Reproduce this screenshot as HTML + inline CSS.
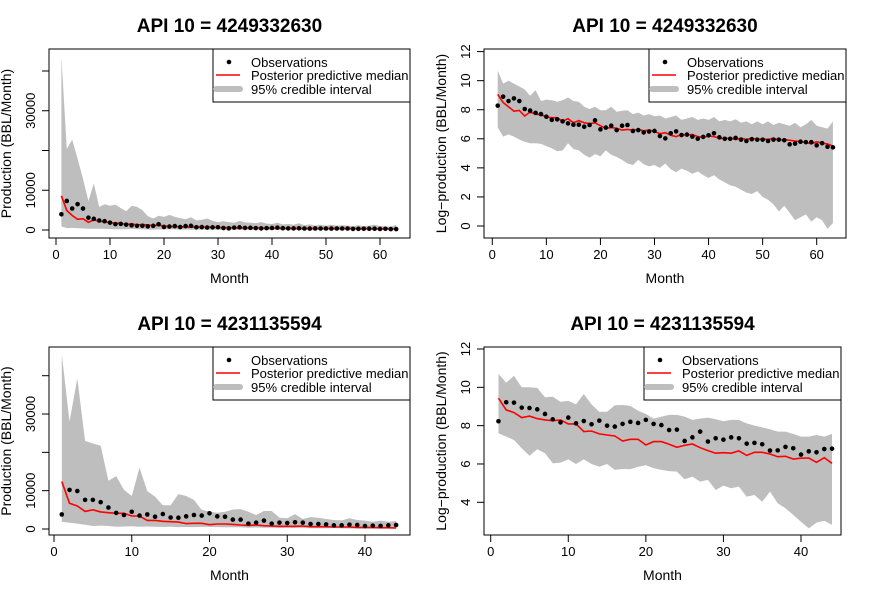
<!DOCTYPE html>
<html><head><meta charset="utf-8"><style>
body{margin:0;background:#fff}
svg{display:block;font-family:"Liberation Sans",sans-serif}
</style></head><body>
<svg id="chart" width="872" height="597" viewBox="0 0 872 597" xmlns="http://www.w3.org/2000/svg"></svg>
<script>
// Panel 1: well 4249332630, production
const p1Obs=[3950,7300,5400,6500,5400,3100,2810,2390,2210,1845,1480,1540,1340,1165,1065,1065,925,1045,1435,770,870,990,735,990,1045,690,735,625,665,690,490,415,590,670,525,540,470,403,460,510,590,445,403,403,430,380,350,390,380,380,350,380,380,370,275,290,330,320,320,257,300,230,224];
const p1Med=[8600,4900,3650,2700,2840,1940,2540,2210,2100,1810,1720,1720,1340,1600,1210,1410,1210,1150,1210,990,830,870,830,735,770,735,770,700,735,665,570,610,520,470,545,520,545,470,445,490,470,425,403,425,385,425,385,425,385,403,385,425,365,385,365,350,330,315,285,330,300,285,245];
const p1Up=[43600,20400,22750,17900,12900,7300,11700,5800,6500,6100,6400,5500,4700,6100,5800,5000,3500,2900,3600,3300,3800,3300,3000,2700,3200,2400,2600,2900,2300,2000,2200,2000,1800,2300,1900,1800,1700,2000,1600,1500,1800,1400,1500,1300,1700,1200,1400,1100,1300,1100,1300,1100,1200,1100,1000,1200,900,1100,1300,1000,900,800,1300];
const p1Lo=[900,470,540,470,380,330,300,300,285,245,210,170,180,300,200,180,135,110,140,120,180,135,115,95,75,65,95,70,60,65,55,75,50,40,50,45,35,40,35,30,35,25,20,15,15,12,10,9,11,7,6,4,3,4,2,1,2,2,1,2,1,1,1];
// Panel 2: well 4249332630, log-production
const p2Obs=[8.28,8.9,8.6,8.78,8.6,8.05,7.94,7.78,7.7,7.52,7.3,7.34,7.2,7.06,6.97,6.97,6.83,6.95,7.27,6.65,6.77,6.9,6.6,6.9,6.95,6.54,6.6,6.44,6.5,6.54,6.19,6.03,6.38,6.51,6.26,6.29,6.15,6.0,6.13,6.24,6.38,6.1,6.0,6.0,6.06,5.94,5.85,5.97,5.94,5.94,5.85,5.94,5.94,5.9,5.62,5.67,5.8,5.77,5.77,5.55,5.7,5.45,5.41];
const p2Med=[9.06,8.5,8.2,7.9,7.95,7.57,7.84,7.7,7.65,7.5,7.45,7.45,7.2,7.38,7.1,7.25,7.1,7.05,7.1,6.9,6.72,6.77,6.72,6.6,6.65,6.6,6.65,6.55,6.6,6.5,6.35,6.42,6.25,6.15,6.3,6.25,6.3,6.15,6.1,6.2,6.15,6.05,6.0,6.05,5.95,6.05,5.95,6.05,5.95,6.0,5.95,6.05,5.9,5.95,5.9,5.85,5.8,5.75,5.65,5.8,5.7,5.65,5.5];
const p2Up=[10.7,9.8,10.0,9.8,9.6,9.4,8.95,9.35,8.6,8.7,8.65,8.55,8.65,8.85,8.6,8.55,8.2,8.05,8.2,7.97,7.97,8.2,7.86,7.93,7.97,7.7,7.8,7.6,7.7,7.55,7.6,7.4,7.5,7.6,7.3,7.4,7.5,7.3,7.4,7.3,7.5,7.2,7.3,7.2,7.35,7.1,7.2,7.0,7.2,7.0,7.2,6.95,7.1,7.0,6.9,7.1,6.8,7.0,7.3,6.9,6.8,6.7,7.2];
const p2Lo=[6.8,6.15,6.3,6.15,5.95,5.8,5.7,5.7,5.65,5.5,5.35,5.15,5.2,5.7,5.3,5.2,4.9,4.7,4.95,4.8,5.2,4.9,4.75,4.55,4.3,4.2,4.55,4.25,4.1,4.2,4.0,4.3,3.9,3.7,3.95,3.8,3.6,3.75,3.5,3.3,3.5,3.2,3.0,2.8,2.7,2.5,2.3,2.2,2.4,2.0,1.8,1.5,1.0,1.4,0.9,0.4,0.6,0.8,0.3,0.6,0.4,-0.2,0.2];
// Panel 3: well 4231135594, production
const p3Obs=[3800,10200,9900,7600,7600,7000,5600,4200,3650,4500,3500,3800,3200,3900,3000,2950,3300,3650,3500,4100,3300,3200,2450,2450,1400,1650,2200,1400,1650,1550,1750,1650,1300,1300,1200,950,950,1130,1050,780,870,800,950,1050];
const p3Med=[12400,6700,6000,4600,5000,4450,4250,4100,4100,3400,3400,2250,2250,2000,1900,1800,1400,1500,1500,1130,1300,1300,1200,1050,950,1050,850,780,700,700,700,780,600,600,600,520,520,520,430,430,430,350,350,260];
const p3Up=[45600,28000,39300,23000,22300,21700,12600,13800,10200,8600,16000,9900,8400,6200,6200,9100,8600,7600,5000,4500,4250,4500,5100,5200,4500,3650,4700,4700,2950,2800,3900,2600,3100,2950,2600,2350,2250,2800,2350,2200,1900,2200,1900,2100];
const p3Lo=[1900,1650,1400,1130,780,900,780,600,650,700,600,650,600,550,600,500,520,500,550,560,500,480,450,440,350,380,320,330,250,280,270,280,200,210,180,240,160,130,100,70,50,70,80,60];
// Panel 4: well 4231135594, log-production
const p4Obs=[8.23,9.22,9.2,8.94,8.92,8.85,8.61,8.33,8.17,8.42,8.12,8.24,8.07,8.26,8.0,7.95,8.09,8.2,8.14,8.3,8.09,8.03,7.77,7.79,7.2,7.39,7.69,7.17,7.34,7.27,7.39,7.34,7.06,7.1,7.03,6.7,6.71,6.89,6.82,6.49,6.66,6.61,6.78,6.8];
const p4Med=[9.43,8.82,8.68,8.42,8.5,8.37,8.3,8.26,8.3,8.09,8.09,7.69,7.72,7.57,7.51,7.46,7.2,7.29,7.29,6.99,7.17,7.17,7.03,6.87,6.97,7.04,6.85,6.7,6.56,6.59,6.56,6.68,6.45,6.61,6.61,6.52,6.38,6.4,6.26,6.3,6.31,6.09,6.33,6.03];
const p4Up=[10.7,10.24,10.6,10.0,10.0,9.97,9.48,9.51,9.25,9.29,9.11,9.65,9.11,8.73,8.73,9.06,9.08,9.03,8.78,8.61,8.37,8.47,8.56,8.56,8.47,8.3,8.37,8.42,8.33,8.23,8.3,8.3,8.12,8.0,7.91,7.81,7.69,7.69,7.57,7.43,7.43,7.51,7.43,7.57];
const p4Lo=[7.6,7.43,7.25,6.82,6.43,6.77,6.56,6.03,6.07,6.24,6.0,6.24,6.0,5.86,6.0,5.69,5.74,5.72,5.86,5.93,5.78,5.69,5.63,5.6,5.2,5.34,5.08,5.17,4.64,4.87,4.73,4.82,4.3,4.38,4.03,4.56,3.95,3.69,3.34,2.99,2.64,2.94,3.04,2.82];
const linTicks=[0,10000,20000,30000,40000];
const linLabels=["0","10000","","30000",""];
const logTicks1=[0,2,4,6,8,10,12];
const logTicks2=[4,6,8,10,12];
const xTicks1=[0,10,20,30,40,50,60];
const xTicks2=[0,10,20,30,40];

const NS="http://www.w3.org/2000/svg";
const svg=document.getElementById('chart');
function mk(tag,attrs,parent){const e=document.createElementNS(NS,tag);for(const k in attrs)e.setAttribute(k,attrs[k]);(parent||svg).appendChild(e);return e;}

function panel(cfg){
  const g=mk('g',{});
  
  
  const X=m=>cfg.x0+(m-cfg.xa)*(cfg.x1-cfg.x0)/(cfg.xb-cfg.xa);
  const Y=v=>cfg.y0+(v-cfg.ya)*(cfg.y1-cfg.y0)/(cfg.yb-cfg.ya);
  const n=cfg.obs.length;
  let d='';
  for(let i=0;i<n;i++)d+=(i?'L':'M')+X(i+1).toFixed(1)+','+Y(cfg.up[i]).toFixed(1);
  for(let i=n-1;i>=0;i--)d+='L'+X(i+1).toFixed(1)+','+Y(cfg.lo[i]).toFixed(1);
  const band=mk('path',{d:d+'Z',fill:'#bebebe',stroke:'none'},g);
  
  
  let md='';
  for(let i=0;i<n;i++)md+=(i?'L':'M')+X(i+1).toFixed(1)+','+Y(cfg.med[i]).toFixed(1);
  const ml=mk('path',{d:md,fill:'none',stroke:'#ff0000','stroke-width':1.6},g);
  
  
  for(let i=0;i<n;i++){
    const c=mk('circle',{cx:X(i+1),cy:Y(cfg.obs[i]),r:2.3,fill:'#000'},g);
    
    
  }
  const b=mk('rect',{x:cfg.bx0,y:cfg.by0,width:cfg.bx1-cfg.bx0,height:cfg.by1-cfg.by0,fill:'none',stroke:'#000','stroke-width':1},g);
  
  
  const xt=cfg.xticks;
  xt.forEach(t=>{
    mk('line',{x1:X(t),x2:X(t),y1:cfg.by1,y2:cfg.by1+7,stroke:'#000'},g);
    const tx=mk('text',{x:X(t),y:cfg.by1+21,'font-size':13,'text-anchor':'middle'},g);
    tx.textContent=t;
    
    
  });
  cfg.yticks.forEach((t,i)=>{
    mk('line',{x1:cfg.bx0-7,x2:cfg.bx0,y1:Y(t),y2:Y(t),stroke:'#000'},g);
    const lab=cfg.ylabels?cfg.ylabels[i]:String(t);
    if(lab){
      const tx=mk('text',{x:0,y:0,'font-size':13,'text-anchor':'middle',transform:`translate(${cfg.bx0-14},${Y(t)}) rotate(-90)`},g);
      tx.textContent=lab;
      
      
    }
  });
  const cx=(cfg.bx0+cfg.bx1)/2;
  const tt=mk('text',{x:cx,y:cfg.by0-17,'font-size':19,'font-weight':'bold','text-anchor':'middle'},g);
  tt.textContent=cfg.title;
  
  
  const xl=mk('text',{x:cx,y:cfg.by1+45,'font-size':14,'text-anchor':'middle'},g);
  xl.textContent='Month';
  
  
  const yl=mk('text',{x:0,y:0,'font-size':14,'text-anchor':'middle',transform:`translate(${cfg.bx0-38},${(cfg.by0+cfg.by1)/2}) rotate(-90)`},g);
  yl.textContent=cfg.ylab;
  
  
  const lg=mk('g',{},g);
  
  
  const lx=cfg.bx1-197, ly=cfg.by0;
  mk('rect',{x:lx,y:ly,width:197,height:53,fill:'#fff',stroke:'#000'},lg);
  mk('circle',{cx:lx+16,cy:ly+13,r:2.3,fill:'#000'},lg);
  mk('line',{x1:lx+3,x2:lx+27,y1:ly+26,y2:ly+26,stroke:'#ff0000','stroke-width':1.6},lg);
  mk('line',{x1:lx+3,x2:lx+27,y1:ly+40,y2:ly+40,stroke:'#bebebe','stroke-width':6,'stroke-linecap':'round'},lg);
  [['Observations',13,'legend-entry-observations'],['Posterior predictive median',26,'legend-entry-median'],['95% credible interval',40,'legend-entry-interval']].forEach(e=>{
    const t=mk('text',{x:lx+38,y:ly+e[1]+5,'font-size':13},lg);
    t.textContent=e[0];
    
    
  });
}

panel({name:'panel-production-4249332630',title:'API 10 = 4249332630',ylab:'Production (BBL/Month)',
  obs:p1Obs,med:p1Med,up:p1Up,lo:p1Lo,
  xa:0,xb:60,x0:56,x1:380,ya:0,yb:40000,y0:230,y1:71,
  bx0:49,bx1:410,by0:49,by1:238,xticks:xTicks1,yticks:linTicks,ylabels:linLabels});
panel({name:'panel-logproduction-4249332630',title:'API 10 = 4249332630',ylab:'Log\u2212production (BBL/Month)',
  obs:p2Obs,med:p2Med,up:p2Up,lo:p2Lo,
  xa:0,xb:60,x0:492.3,x1:816.7,ya:0,yb:12,y0:226,y1:51.6,
  bx0:484,bx1:846,by0:49,by1:238,xticks:xTicks1,yticks:logTicks1});
panel({name:'panel-production-4231135594',title:'API 10 = 4231135594',ylab:'Production (BBL/Month)',
  obs:p3Obs,med:p3Med,up:p3Up,lo:p3Lo,
  xa:0,xb:40,x0:54,x1:365,ya:0,yb:40000,y0:529,y1:375.7,
  bx0:49,bx1:410,by0:347,by1:535,xticks:xTicks2,yticks:linTicks,ylabels:linLabels});
panel({name:'panel-logproduction-4231135594',title:'API 10 = 4231135594',ylab:'Log\u2212production (BBL/Month)',
  obs:p4Obs,med:p4Med,up:p4Up,lo:p4Lo,
  xa:0,xb:40,x0:490.7,x1:801,ya:4,yb:12,y0:502.3,y1:349,
  bx0:484,bx1:841,by0:347,by1:535,xticks:xTicks2,yticks:logTicks2});
</script>
</body></html>
